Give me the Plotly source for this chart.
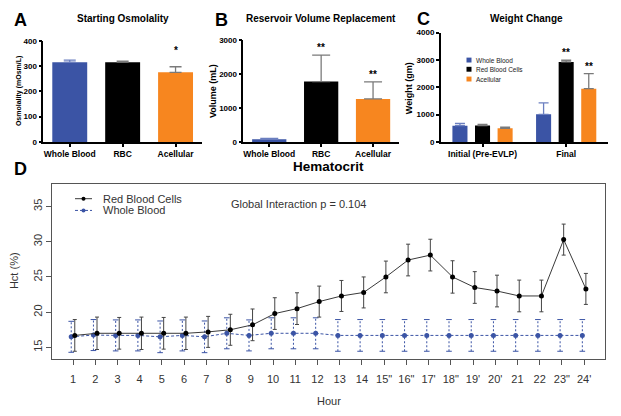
import plotly.graph_objects as go

W, H = 621, 416
def px(x): return x / W
def py(y): return 1 - y / H

BLUE = "#3B54A5"
ORANGE = "#F7861F"
BLACK = "#000000"
ERR_GRAY = "#7a7a7a"
ERR_BLUE = "#6b7fc0"

# ---------------- Data ----------------
# Panel A: Starting Osmolality
osm_cats = ["Whole Blood", "RBC", "Acellular"]
osm_vals = [315, 315, 275]
osm_err = [8, 4, 22]
osm_sig = ["", "", "*"]

# Panel B: Reservoir Volume Replacement
vol_cats = ["Whole Blood", "RBC", "Acellular"]
vol_vals = [95, 1790, 1280]
vol_err = [25, 780, 500]
vol_sig = ["", "**", "**"]

# Panel C: Weight Change
wt_groups = ["Initial (Pre-EVLP)", "Final"]
wt_series = ["Whole Blood", "Red Blood Cells", "Acellular"]
wt_whole = [595, 1010]
wt_whole_err = [80, 420]
wt_rbc = [600, 2930]
wt_rbc_err = [40, 60]
wt_acell = [500, 1950]
wt_acell_err = [40, 550]
wt_sig_whole = ["", ""]
wt_sig_rbc = ["", "**"]
wt_sig_acell = ["", "**"]

# Panel D: Hematocrit
hours = list(range(1, 25))
hour_labels = ["1", "2", "3", "4", "5", "6", "7", "8", "9", "10", "11", "12",
               "13", "14", "15\"", "16\"", "17'", "18\"", "19'", "20'", "21", "22",
               "23\"", "24'"]
rbc_hct = [16.7, 17.0, 17.0, 17.0, 17.0, 17.0, 17.2, 17.5, 18.2, 19.8, 20.5, 21.5,
           22.3, 22.8, 25.0, 27.4, 28.1, 25.0, 23.5, 23.0, 22.3, 22.3, 30.3, 23.3]
rbc_sd = [2.25, 2.3, 2.25, 2.3, 2.25, 2.3, 2.2, 2.2, 2.25, 2.25, 2.25, 2.2,
          2.2, 2.2, 2.25, 2.25, 2.25, 2.3, 2.25, 2.25, 2.25, 2.25, 2.2, 2.2]
wb_hct = [16.5, 16.75, 16.7, 16.7, 16.5, 16.7, 16.5, 17.0, 16.7, 17.0, 17.0, 17.0,
          16.7, 16.7, 16.7, 16.7, 16.7, 16.7, 16.7, 16.7, 16.7, 16.7, 16.7, 16.7]
wb_sd = [2.2, 2.2, 2.2, 2.2, 2.25, 2.2, 2.25, 2.2, 2.2, 2.2, 2.2, 2.2,
         2.25, 2.25, 2.25, 2.25, 2.25, 2.25, 2.25, 2.25, 2.25, 2.25, 2.25, 2.25]
d_series = ["Red Blood Cells", "Whole Blood"]

fig = go.Figure()

bar_colors = [BLUE, BLACK, ORANGE]
err_colors = [ERR_BLUE, ERR_GRAY, ERR_GRAY]

def err(v, w, c):
    return dict(type="data", array=[v], arrayminus=[0], symmetric=False,
                color=c, thickness=1.3, width=w)

# Panel A
for i, c in enumerate(osm_cats):
    fig.add_trace(go.Bar(x=[c], y=[osm_vals[i]], width=0.66, marker_color=bar_colors[i],
                         marker_line_width=0, error_y=err(osm_err[i], 6, err_colors[i]),
                         xaxis="x", yaxis="y", showlegend=False))
# Panel B
for i, c in enumerate(vol_cats):
    fig.add_trace(go.Bar(x=[c], y=[vol_vals[i]], width=0.66, marker_color=bar_colors[i],
                         marker_line_width=0, error_y=err(vol_err[i], 9, err_colors[i]),
                         xaxis="x2", yaxis="y2", showlegend=False))
# Panel C
c_data = [(wt_whole, wt_whole_err, -0.36), (wt_rbc, wt_rbc_err, -0.09), (wt_acell, wt_acell_err, 0.18)]
for i, (vals, errs, off) in enumerate(c_data):
    fig.add_trace(go.Bar(x=wt_groups, y=vals, width=0.18, offset=off,
                         marker_color=bar_colors[i], marker_line_width=0, name=wt_series[i],
                         error_y=dict(type="data", array=errs, arrayminus=[0] * len(errs),
                                      symmetric=False, color=err_colors[i], thickness=1.3, width=5),
                         xaxis="x3", yaxis="y3", showlegend=False))

# Panel D
wb_x = [h - 0.08 for h in hours]
rbc_x = [h + 0.08 for h in hours]
stem_x, stem_y = [], []
for x, y, s in zip(wb_x, wb_hct, wb_sd):
    stem_x += [x, x, None]
    stem_y += [y - s, y + s, None]
fig.add_trace(go.Scatter(x=stem_x, y=stem_y, mode="lines",
                         line=dict(color=BLUE, width=1, dash="2px,2px"),
                         xaxis="x4", yaxis="y4", showlegend=False, hoverinfo="skip"))
fig.add_trace(go.Scatter(x=wb_x + wb_x, y=[y + s for y, s in zip(wb_hct, wb_sd)] +
                         [y - s for y, s in zip(wb_hct, wb_sd)],
                         mode="markers", marker=dict(symbol="line-ew", size=4,
                                                     line=dict(color=BLUE, width=1)),
                         xaxis="x4", yaxis="y4", showlegend=False, hoverinfo="skip"))
fig.add_trace(go.Scatter(x=wb_x, y=wb_hct, mode="lines+markers", name=d_series[1],
                         line=dict(color=BLUE, width=1, dash="3px,2px"),
                         marker=dict(color=BLUE, size=5),
                         xaxis="x4", yaxis="y4", showlegend=False))
fig.add_trace(go.Scatter(x=rbc_x, y=rbc_hct, mode="lines+markers", name=d_series[0],
                         line=dict(color="#3a3a3a", width=1),
                         marker=dict(color=BLACK, size=5),
                         error_y=dict(type="data", array=rbc_sd, color="#444444",
                                      thickness=1, width=2),
                         xaxis="x4", yaxis="y4", showlegend=False))

# Axes
bold8 = dict(family="Liberation Sans", size=8, color="black", weight="bold")
bold85 = dict(family="Liberation Sans", size=8.5, color="black", weight="bold")
def top_y(domain, rng, dtick):
    return dict(domain=domain, range=rng, dtick=dtick, showline=True, linecolor="black",
                linewidth=1.5, ticks="outside", ticklen=3, tickwidth=1.5, tickcolor="black",
                tickfont=bold8, showgrid=False, zeroline=False, fixedrange=True)
def top_x(domain, rng):
    return dict(domain=domain, range=rng, type="category", showline=True, linecolor="black",
                linewidth=1.5, ticks="outside", ticklen=3, tickwidth=1.5, tickcolor="black",
                tickfont=bold85, showgrid=False, zeroline=False)

fig.update_layout(
    width=W, height=H, margin=dict(l=0, r=0, t=0, b=0),
    paper_bgcolor="white", plot_bgcolor="white", barmode="overlay",
    font=dict(family="Liberation Sans", color="#333333"),
    xaxis=dict(top_x([px(43.3), px(202)], [-0.5, 2.5]), anchor="y"),
    yaxis=dict(top_y([py(141), py(37.5)], [0, 400], 100), anchor="x"),
    xaxis2=dict(top_x([px(243.3), px(399)], [-0.5, 2.5]), anchor="y2"),
    yaxis2=dict(top_y([py(141.5), py(37.3)], [0, 3000], 1000), anchor="x2"),
    xaxis3=dict(top_x([px(440.7), px(608)], [-0.5, 1.5]), anchor="y3"),
    yaxis3=dict(top_y([py(141), py(29.3)], [0, 4000], 1000), anchor="x3"),
    xaxis4=dict(domain=[px(52), px(605)], range=[0.055, 24.94], anchor="y4",
                tickmode="array", tickvals=hours, ticktext=hour_labels,
                showline=True, mirror=True, linecolor="#555555", linewidth=1,
                ticks="outside", ticklen=5, tickcolor="#555555", ticklabelstandoff=5,
                tickfont=dict(family="Liberation Sans", size=11, color="#333333"),
                showgrid=False, zeroline=False),
    yaxis4=dict(domain=[py(363), py(184)], range=[13.33, 38.19], anchor="x4",
                tickmode="array", tickvals=[15, 20, 25, 30, 35], tickangle=-90,
                showline=True, mirror=True, linecolor="#555555", linewidth=1,
                ticks="outside", ticklen=5, tickcolor="#555555",
                tickfont=dict(family="Liberation Sans", size=11, color="#333333"),
                showgrid=False, zeroline=False),
)

ann = []
def A(**kw):
    base = dict(showarrow=False, xref="paper", yref="paper")
    base.update(kw)
    ann.append(base)

letter_font = dict(family="Liberation Sans", size=18, color="black", weight="bold")
A(x=px(12), y=py(16), text="A", font=letter_font, xanchor="left", yanchor="middle")
A(x=px(213), y=py(16), text="B", font=letter_font, xanchor="left", yanchor="middle")
A(x=px(415), y=py(15), text="C", font=letter_font, xanchor="left", yanchor="middle")
A(x=px(12), y=py(169), text="D", font=letter_font, xanchor="left", yanchor="middle")

title_font = dict(family="Liberation Sans", size=10, color="black", weight="bold")
A(x=px(123), y=py(15), text="Starting Osmolality", font=title_font, xanchor="center", yanchor="middle")
A(x=px(321), y=py(15), text="Reservoir Volume Replacement", font=title_font, xanchor="center", yanchor="middle")
A(x=px(526), y=py(15), text="Weight Change", font=title_font, xanchor="center", yanchor="middle")
A(x=px(328), y=py(166), text="Hematocrit", font=dict(family="Liberation Sans", size=13.5, color="black", weight="bold"),
  xanchor="center", yanchor="middle")

A(x=px(19), y=py(89), text="Osmolality (mOsm/L)", textangle=-90,
  font=dict(family="Liberation Sans", size=7, color="black", weight="bold"), xanchor="center", yanchor="middle")
A(x=px(213), y=py(89), text="Volume (mL)", textangle=-90,
  font=dict(family="Liberation Sans", size=9, color="black", weight="bold"), xanchor="center", yanchor="middle")
A(x=px(409), y=py(86), text="Weight (gm)", textangle=-90,
  font=dict(family="Liberation Sans", size=9, color="black", weight="bold"), xanchor="center", yanchor="middle")

A(x=px(14), y=py(273), text="Hct (%)", textangle=-90,
  font=dict(family="Liberation Sans", size=11, color="#333333"), xanchor="center", yanchor="middle")
A(x=px(329), y=py(406), text="Hour",
  font=dict(family="Liberation Sans", size=11, color="#333333"), xanchor="center", yanchor="middle")
A(x=px(229), y=py(204), text="Global Interaction p = 0.104",
  font=dict(family="Liberation Sans", size=11, color="#333333"), xanchor="left", yanchor="middle")

# significance stars
star_font = dict(family="Liberation Sans", size=10, color="black", weight="bold")
for c, v, e, s in zip(osm_cats, osm_vals, osm_err, osm_sig):
    if s:
        ann.append(dict(x=c, y=v + e, xref="x", yref="y", text=s, showarrow=False,
                        yanchor="bottom", yshift=9, font=star_font))
for c, v, e, s in zip(vol_cats, vol_vals, vol_err, vol_sig):
    if s:
        ann.append(dict(x=c, y=v + e, xref="x2", yref="y2", text=s, showarrow=False,
                        yanchor="bottom", yshift=0, font=star_font))
for (vals, errs, off), sigs in zip(c_data, [wt_sig_whole, wt_sig_rbc, wt_sig_acell]):
    for j, g in enumerate(wt_groups):
        if sigs[j]:
            ann.append(dict(x=j + off + 0.09, y=vals[j] + errs[j], xref="x3", yref="y3",
                            text=sigs[j], showarrow=False, yanchor="bottom", yshift=0,
                            font=star_font))

# Legend for C (manual, compact)
shapes = []
leg_rows = [57.3, 66.7, 76.7]
for i, name in enumerate(wt_series):
    yy = leg_rows[i]
    shapes.append(dict(type="rect", xref="paper", yref="paper",
                       x0=px(466.5), x1=px(471.5), y0=py(yy + 2.5), y1=py(yy - 2.5),
                       fillcolor=bar_colors[i], line=dict(width=0)))
    A(x=px(474.5), y=py(yy), text=name, xanchor="left", yanchor="middle",
      font=dict(family="Liberation Sans", size=6.5, color="#222222"))

# Legend for D (manual, compact)
shapes.append(dict(type="line", xref="paper", yref="paper", x0=px(75), x1=px(92),
                   y0=py(199), y1=py(199), line=dict(color="#3a3a3a", width=1)))
shapes.append(dict(type="circle", xref="paper", yref="paper", x0=px(81.5), x1=px(85.5),
                   y0=py(201), y1=py(197), fillcolor=BLACK, line=dict(width=0)))
shapes.append(dict(type="line", xref="paper", yref="paper", x0=px(75), x1=px(92),
                   y0=py(211), y1=py(211), line=dict(color=BLUE, width=1, dash="3px,2px")))
shapes.append(dict(type="circle", xref="paper", yref="paper", x0=px(81.5), x1=px(85.5),
                   y0=py(213), y1=py(209), fillcolor=BLUE, line=dict(width=0)))
A(x=px(101), y=py(199), text=d_series[0], xanchor="left", yanchor="middle",
  font=dict(family="Liberation Sans", size=11, color="#333333"))
A(x=px(101), y=py(211), text=d_series[1], xanchor="left", yanchor="middle",
  font=dict(family="Liberation Sans", size=11, color="#333333"))

fig.update_layout(annotations=ann, shapes=shapes)
fig.write_html("out.html", config={"displayModeBar": False},
               post_script="document.body.style.margin='0';document.body.style.overflow='hidden';")
